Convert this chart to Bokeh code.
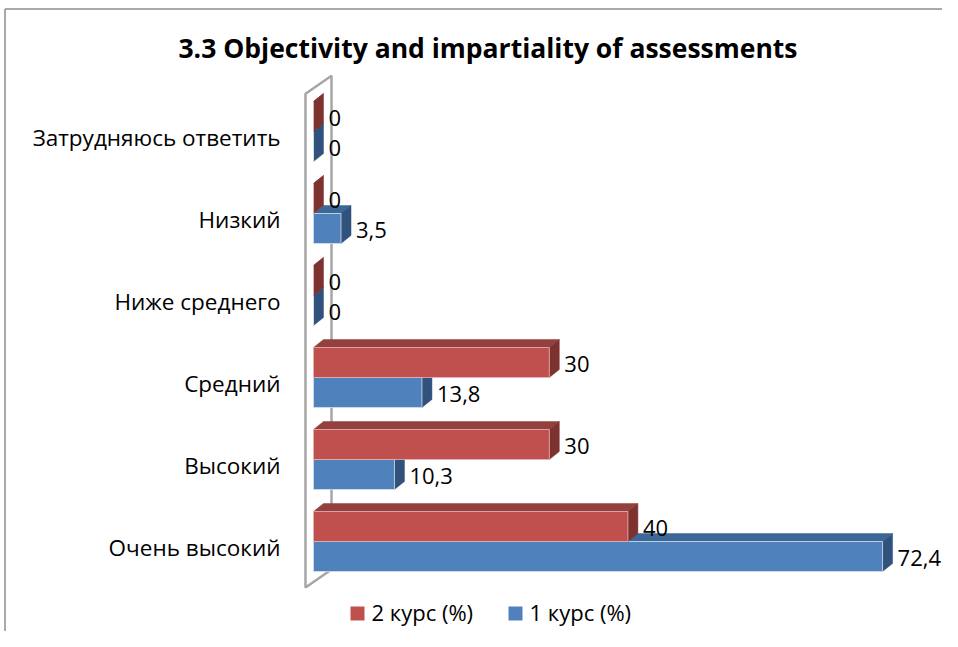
from bokeh.plotting import figure
from bokeh.models import Range1d, ColumnDataSource
from bokeh.core.properties import value
from bokeh.embed import file_html
from bokeh.resources import INLINE

# ---------------- data ----------------
categories = ["Очень высокий", "Высокий", "Средний", "Ниже среднего", "Низкий", "Затрудняюсь ответить"]
kurs1 = [72.4, 10.3, 13.8, 0, 3.5, 0]   # 1 курс (%)
kurs2 = [40, 30, 30, 0, 0, 0]           # 2 курс (%)
series_names = ["2 курс (%)", "1 курс (%)"]
title_text = "3.3 Objectivity and impartiality of assessments"

# ---------------- layout constants ----------------
W, H = 942, 631
S = 7.86          # px per value unit
CAT = 82.0        # px per category
X0 = 313          # px of value 0
Y0 = 541          # px of first category baseline
fmt = lambda v: ("%g" % v).replace(".", ",")
px = lambda d: d / S
py = lambda d: d / CAT
ax = lambda img_x: (img_x - X0) / S
ay = lambda img_y: (Y0 - img_y) / CAT

FONT = "Open Sans"
RED, RED_TOP, RED_SIDE = "#C0504D", "#94403E", "#7E3230"
BLUE, BLUE_TOP, BLUE_SIDE = "#4F81BD", "#3D6797", "#30527D"

p = figure(width=W, height=H, output_backend="svg", toolbar_location=None,
           x_range=Range1d(ax(0), ax(W)),
           y_range=Range1d(ay(H), ay(0)),
           x_axis_location=None, y_axis_location=None, min_border=0,
           outline_line_color=None, background_fill_color="white")
p.grid.visible = False

# outer chart border (top and left visible)
p.line(x=[ax(4.5)] * 2, y=[ay(H), ay(8.5)], line_color="#8C8C8C", line_width=1.5)
p.line(x=[ax(4.5), ax(W)], y=[ay(8.5)] * 2, line_color="#8C8C8C", line_width=1.5)

# back wall (3D)
wb, wt = -0.56, 5.46
wdx, wdy = px(26), py(18)
p.patch(x=[px(-8), px(-8), px(-8) + wdx, px(-8) + wdx],
        y=[wb, wt, wt + wdy, wb + wdy],
        fill_color="white", line_color="#A6A6A6", line_width=2.5)

dx, dy = px(10), py(8)
bh = py(30)

def bars(vals, lo_off, front, top, side):
    n = len(vals)
    lows = [i + lo_off for i in range(n)]
    highs = [l + bh for l in lows]
    top_xs = [[0, v, v + dx, dx] for v in vals]
    top_ys = [[h, h, h + dy, h + dy] for h in highs]
    side_xs = [[v, v + dx, v + dx, v] for v in vals]
    side_ys = [[h, h + dy, l + dy, l] for l, h in zip(lows, highs)]
    p.patches(xs=top_xs, ys=top_ys, fill_color=top, line_color=top, line_width=0.5)
    p.patches(xs=side_xs, ys=side_ys, fill_color=side, line_color=side, line_width=0.5)
    p.quad(left=[0] * n, right=vals, bottom=lows, top=highs,
           fill_color=front, line_color="#D6E0EE" if front == BLUE else "#E4B4B3", line_width=0.8)
    src = ColumnDataSource(dict(x=[v + px(15) for v in vals],
                                y=[(l + h) / 2 - py(1) for l, h in zip(lows, highs)],
                                t=[fmt(v) for v in vals]))
    p.text(x="x", y="y", text="t", source=src, text_font=value(FONT), text_font_size="22px",
           text_baseline="middle", text_align="left", text_color="black")

# blue (1 курс) first, red (2 курс) drawn over it
bars(kurs1, -bh, BLUE, BLUE_TOP, BLUE_SIDE)
bars(kurs2, 0.0, RED, RED_TOP, RED_SIDE)

# category labels
csrc = ColumnDataSource(dict(x=[ax(280)] * len(categories),
                             y=[i - py(6) for i in range(len(categories))],
                             t=categories))
p.text(x="x", y="y", text="t", source=csrc, text_font=value(FONT), text_font_size="22.5px",
       text_align="right", text_baseline="middle", text_color="black")

# title
p.text(x=[ax(487.5)], y=[ay(47)], text=[title_text], text_font=value(FONT),
       text_font_size="26.5px", text_font_style="bold", text_align="center",
       text_baseline="middle", text_color="black")

# legend
leg_cols = [RED, BLUE]
leg_x = [350, 508]
for name, col, lx in zip(series_names, leg_cols, leg_x):
    p.rect(x=[ax(lx + 7)], y=[ay(613)], width=px(14), height=py(14),
           fill_color=col, line_color=None)
    p.text(x=[ax(lx + 21)], y=[ay(611)], text=[name], text_font=value(FONT),
           text_font_size="22px", text_align="left", text_baseline="middle", text_color="black")

open("out.html", "w").write(file_html(p, INLINE))
